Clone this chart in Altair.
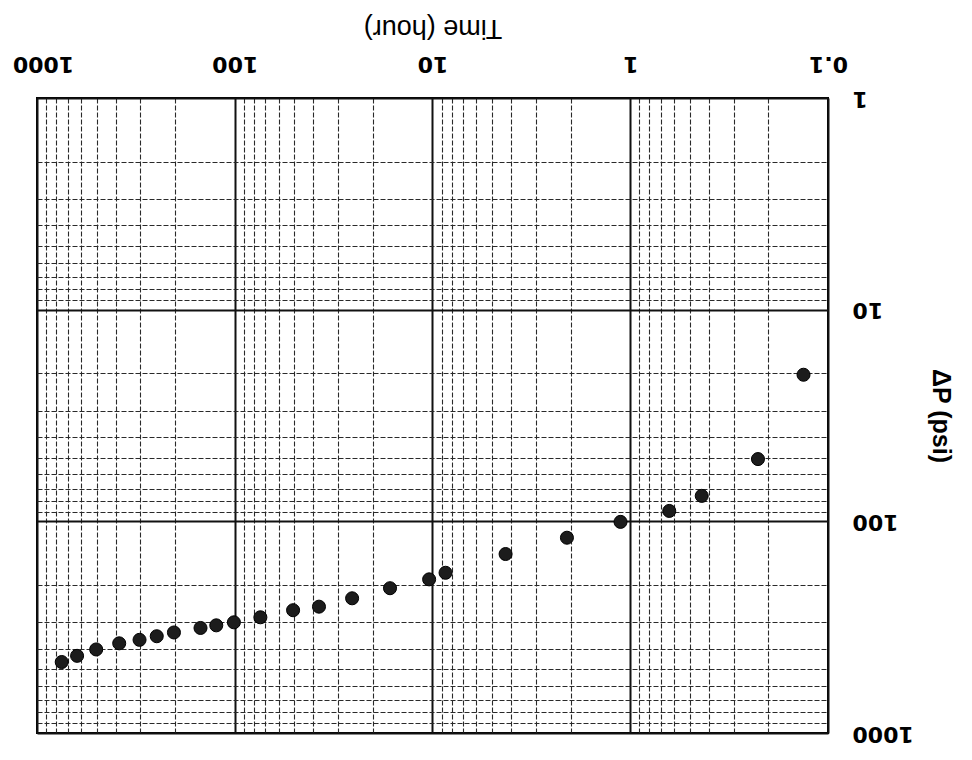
import altair as alt
import pandas as pd

# Data (log-log plot, shown rotated 180 degrees)
time_hr = [0.133, 0.226, 0.435, 0.635, 1.12, 2.09, 4.27, 8.59, 10.4, 16.4, 25.5, 37.5,
           50.7, 74.2, 101, 124, 149, 203, 248, 303, 384, 502, 627, 750]
dp_psi = [20.3, 50.8, 75.8, 89.3, 100.6, 119.5, 142.7, 175, 188, 207, 231, 253,
          263, 284, 300, 310, 319, 335, 349, 363, 377, 403, 432, 462]

x_major = [0.1, 1, 10, 100, 1000]
y_major = [1, 10, 100, 1000]
minor_mult = [2, 3, 4, 5, 6, 7, 8, 9]
x_ticks = sorted(x_major + [m * d for d in [0.1, 1, 10, 100] for m in minor_mult])
y_ticks = sorted(y_major + [m * d for d in [1, 10, 100] for m in minor_mult])

df = pd.DataFrame({"t": time_hr, "dp": dp_psi})


def major_test(vals):
    return " || ".join(f"abs(datum.value - {v}) < {v * 1e-6}" for v in vals)


def grid_props(vals):
    test = major_test(vals)
    return dict(
        gridColor={"condition": {"test": test, "value": "#111111"}, "value": "#2a2a2a"},
        gridWidth={"condition": {"test": test, "value": 2}, "value": 1.1},
        gridDash={"condition": {"test": test, "value": []}, "value": [5, 2]},
        gridOpacity=1,
    )


x_axis = alt.Axis(
    orient="top",
    values=x_ticks,
    format="~g",
    labelExpr=f"({major_test(x_major)}) ? datum.label : ''",
    labelAngle=180,
    labelAlign="center",
    labelBaseline="top",
    labelPadding=25,
    labelOffset={"condition": {"test": "datum.value > 999", "value": 6}, "value": 0},
    labelFont="DejaVu Sans",
    labelFontWeight="bold",
    labelFontSize=22,
    labelColor="black",
    labelOverlap=False,
    labelFlush=False,
    ticks=False,
    tickSize=0,
    domain=False,
    grid=True,
    title="Time (hour)",
    titleAngle=180,
    titleBaseline="top",
    titleFont="Liberation Sans",
    titleFontSize=27,
    titleFontWeight="normal",
    titleColor="black",
    titlePadding=12,
    **grid_props(x_major),
)

y_axis = alt.Axis(
    orient="right",
    values=y_ticks,
    format="~g",
    labelExpr=f"({major_test(y_major)}) ? datum.label : ''",
    labelAngle=180,
    labelAlign="right",
    labelBaseline="middle",
    labelPadding=24,
    labelFont="DejaVu Sans",
    labelFontWeight="bold",
    labelFontSize=22,
    labelColor="black",
    labelOverlap=False,
    labelFlush=False,
    ticks=False,
    tickSize=0,
    domain=False,
    grid=True,
    title="ΔP (psi)",
    titleAngle=90,
    titleFont="Liberation Sans",
    titleFontSize=25,
    titleFontWeight="bold",
    titleColor="black",
    titlePadding=14,
    **grid_props(y_major),
)

chart = (
    alt.Chart(df)
    .mark_circle(size=170, color="#1c1c1c", opacity=1, stroke="black", strokeWidth=1)
    .encode(
        x=alt.X("t:Q", scale=alt.Scale(type="log", domain=[0.1, 1000], reverse=True, nice=False), axis=x_axis),
        y=alt.Y("dp:Q", scale=alt.Scale(type="log", domain=[1, 1000], reverse=True, nice=False), axis=y_axis),
    )
    .properties(
        width=791,
        height=635,
        autosize=alt.AutoSizeParams(type="none"),
        padding={"left": 29, "top": 90, "right": 130, "bottom": 15},
        background="white",
    )
    .configure_view(stroke="black", strokeWidth=2)
)

chart.save("out.html", embed_options={"renderer": "svg", "actions": False})
